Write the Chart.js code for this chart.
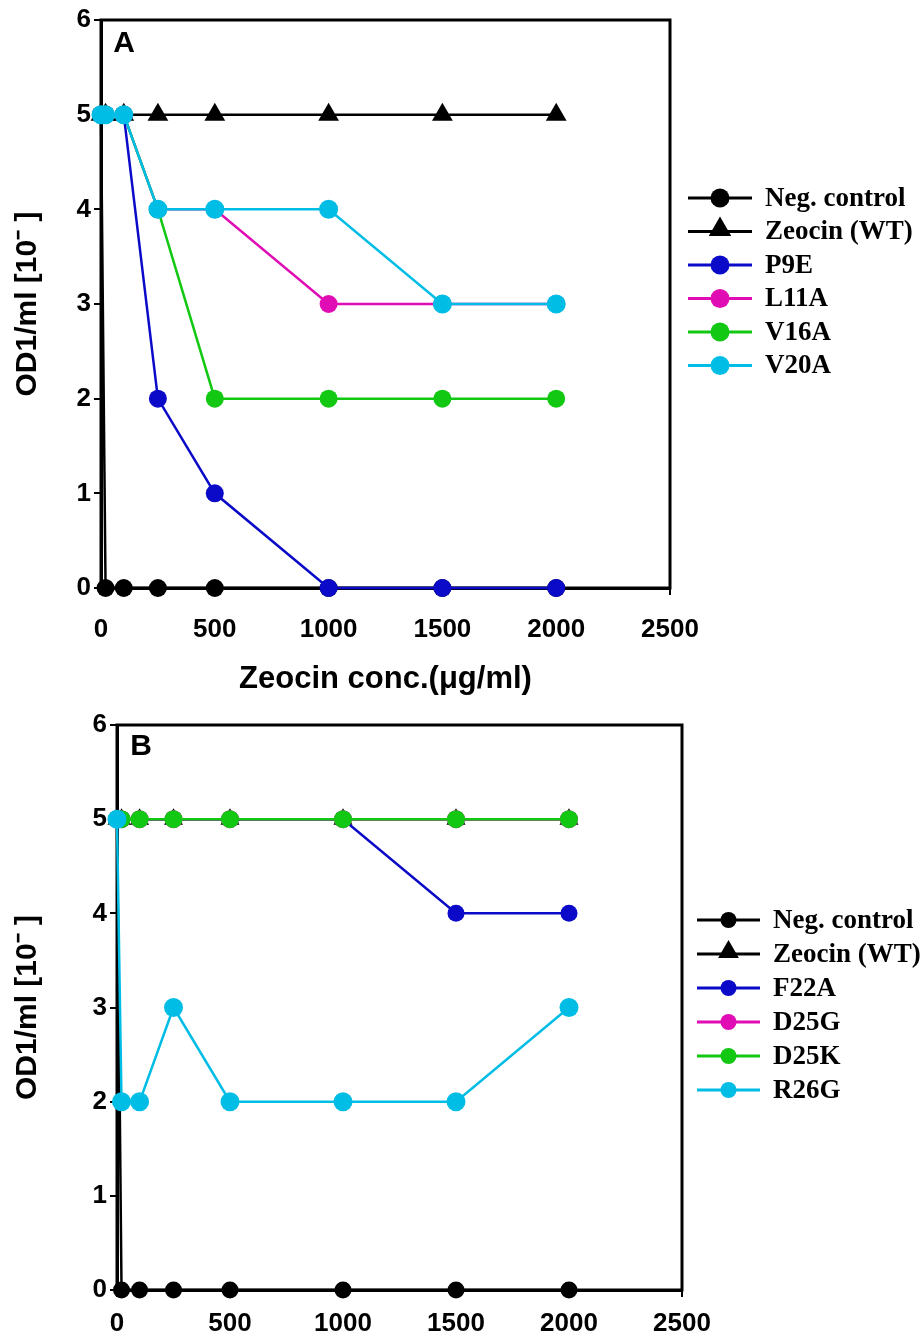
<!DOCTYPE html>
<html>
<head>
<meta charset="utf-8">
<script src="https://cdn.jsdelivr.net/npm/chart.js@4.4.0/dist/chart.umd.min.js"></script>
<style>
  body { margin: 0; background: #fff; }
  canvas { display: block; }
</style>
</head>
<body>
<canvas id="panelA" width="921" height="700"></canvas>
<canvas id="panelB" width="921" height="639"></canvas>
<script>
// Zeocin concentrations (ug/ml)
const concA = [0, 20, 100, 250, 500, 1000, 1500, 2000];
const concB = [0, 20, 100, 250, 500, 1000, 1500, 2000];

// Panel A series
const negA  = [5, 0, 0, 0, 0, 0, 0, 0];
const wtA   = [5, 5, 5, 5, 5, 5, 5, 5];
const p9eA  = [5, 5, 5, 2, 1, 0, 0, 0];
const l11aA = [5, 5, 5, 4, 4, 3, 3, 3];
const v16aA = [5, 5, 5, 4, 2, 2, 2, 2];
const v20aA = [5, 5, 5, 4, 4, 4, 3, 3];

// Panel B series
const negB  = [5, 0, 0, 0, 0, 0, 0, 0];
const wtB   = [5, 5, 5, 5, 5, 5, 5, 5];
const f22aB = [5, 5, 5, 5, 5, 5, 4, 4];
const d25gB = [5, 5, 5, 5, 5, 5, 5, 5];
const d25kB = [5, 5, 5, 5, 5, 5, 5, 5];
const r26gB = [5, 2, 2, 3, 2, 2, 2, 3];

const xTicks = [0, 500, 1000, 1500, 2000, 2500];
const yTicks = [0, 1, 2, 3, 4, 5, 6];
const yTitle = 'OD1/ml [10\u207B ]';

const BLACK = '#000000';
const BLUE = '#0a0ac8';
const MAGENTA = '#e00cb4';
const GREEN = '#12c812';
const CYAN = '#00bde6';
const SANS = '"Liberation Sans", Arial, sans-serif';

function series(label, xs, ys, color, style, r) {
    return {
        label: label,
        data: xs.map((x, i) => ({ x: x, y: ys[i] })),
        borderColor: color,
        backgroundColor: color,
        pointBackgroundColor: color,
        pointBorderColor: color,
        pointBorderWidth: 0,
        pointStyle: style,
        pointRadius: r,
        borderWidth: 2.5,
        tension: 0,
        clip: false
    };
}

// box round the plot + panel letter
const framePlugin = {
    id: 'frame',
    beforeDatasetsDraw(chart, args, opts) {
        const { ctx, chartArea: a } = chart;
        ctx.save();
        ctx.strokeStyle = BLACK;
        ctx.lineWidth = 3;
        ctx.strokeRect(a.left, a.top, a.right - a.left, a.bottom - a.top);
        ctx.font = 'bold 30px ' + SANS;
        ctx.fillStyle = BLACK;
        ctx.textAlign = 'center';
        ctx.textBaseline = 'middle';
        ctx.fillText(opts.letter, opts.letterX, opts.letterY);
        ctx.restore();
    }
};

// legend drawn at the side: line + marker + label
const sideLegend = {
    id: 'sideLegend',
    afterDraw(chart, args, opts) {
        const ctx = chart.ctx;
        chart.data.datasets.forEach((ds, i) => {
            const y = opts.top + i * opts.gap;
            const cx = (opts.x0 + opts.x1) / 2;
            ctx.save();
            ctx.strokeStyle = ds.borderColor;
            ctx.lineWidth = 3;
            ctx.beginPath();
            ctx.moveTo(opts.x0, y);
            ctx.lineTo(opts.x1, y);
            ctx.stroke();
            ctx.fillStyle = ds.backgroundColor;
            ctx.strokeStyle = ds.backgroundColor;
            const tri = ds.pointStyle === 'triangle';
            Chart.helpers.drawPoint(ctx, { pointStyle: ds.pointStyle, radius: tri ? opts.tri : opts.dot, borderWidth: 0 }, cx, tri ? y - 2 : y);
            ctx.fillStyle = BLACK;
            ctx.font = 'bold 27px "Liberation Serif", "Times New Roman", serif';
            ctx.textAlign = 'left';
            ctx.textBaseline = 'middle';
            ctx.fillText(ds.label, opts.textX, y + 1);
            ctx.restore();
        });
    }
};

function makeChart(id, datasets, cfg) {
    const ctx = document.getElementById(id).getContext('2d');
    // later series drawn on top
    datasets.forEach((d, i) => { d.order = datasets.length - i; });
    return new Chart(ctx, {
        type: 'line',
        data: { datasets: datasets },
        options: {
            responsive: false,
            animation: false,
            layout: { padding: { top: cfg.top, right: cfg.right, left: 0, bottom: 0 } },
            plugins: {
                legend: { display: false },
                tooltip: { enabled: false },
                frame: { letter: cfg.letter, letterX: cfg.letterX, letterY: cfg.letterY },
                sideLegend: cfg.legend
            },
            scales: {
                x: {
                    type: 'linear',
                    min: 0,
                    max: 2500,
                    afterFit: s => { s.height = cfg.xHeight; },
                    afterBuildTicks: s => { s.ticks = xTicks.map(v => ({ value: v })); },
                    grid: { drawOnChartArea: false, drawTicks: true, tickLength: 7, color: BLACK, lineWidth: 2 },
                    border: { display: true, color: BLACK, width: 3 },
                    ticks: {
                        color: BLACK,
                        padding: cfg.xPad,
                        maxRotation: 0,
                        callback: v => String(v),
                        font: { family: SANS, size: 26, weight: 'bold' }
                    },
                    title: {
                        display: cfg.xTitle !== '',
                        text: cfg.xTitle,
                        color: BLACK,
                        padding: { top: 0, bottom: 2 },
                        font: { family: SANS, size: 31, weight: 'bold' }
                    }
                },
                y: {
                    min: 0,
                    max: 6,
                    afterFit: s => { s.width = cfg.yWidth; },
                    afterBuildTicks: s => { s.ticks = yTicks.map(v => ({ value: v })); },
                    grid: { drawOnChartArea: false, drawTicks: true, tickLength: 7, color: BLACK, lineWidth: 2 },
                    border: { display: true, color: BLACK, width: 3 },
                    ticks: {
                        color: BLACK,
                        padding: 3,
                        callback: v => String(v),
                        font: { family: SANS, size: 26, weight: 'bold' }
                    },
                    title: {
                        display: true,
                        text: yTitle,
                        color: BLACK,
                        padding: { top: 10, bottom: 0 },
                        font: { family: SANS, size: 30, weight: 'bold' }
                    }
                }
            }
        },
        plugins: [framePlugin, sideLegend]
    });
}

makeChart('panelA', [
    series('Neg. control', concA, negA, BLACK, 'circle', 9),
    series('Zeocin (WT)', concA, wtA, BLACK, 'triangle', 12),
    series('P9E', concA, p9eA, BLUE, 'circle', 9),
    series('L11A', concA, l11aA, MAGENTA, 'circle', 9),
    series('V16A', concA, v16aA, GREEN, 'circle', 9),
    series('V20A', concA, v20aA, CYAN, 'circle', 9.5)
], {
    top: 20, right: 251, xHeight: 112, yWidth: 101, xPad: 19,
    xTitle: 'Zeocin conc.(\u03BCg/ml)',
    letter: 'A', letterX: 124, letterY: 44,
    legend: { x0: 688, x1: 752, textX: 765, top: 198, gap: 33.5, dot: 9.5, tri: 13 }
});

makeChart('panelB', [
    series('Neg. control', concB, negB, BLACK, 'circle', 8.5),
    series('Zeocin (WT)', concB, wtB, BLACK, 'triangle', 11),
    series('F22A', concB, f22aB, BLUE, 'circle', 8.5),
    series('D25G', concB, d25gB, MAGENTA, 'circle', 9),
    series('D25K', concB, d25kB, GREEN, 'circle', 9),
    series('R26G', concB, r26gB, CYAN, 'circle', 9.5)
], {
    top: 25, right: 239, xHeight: 49, yWidth: 117, xPad: 11,
    xTitle: '',
    letter: 'B', letterX: 141, letterY: 47,
    legend: { x0: 697, x1: 760, textX: 773, top: 220, gap: 34, dot: 8, tri: 12 }
});
</script>
</body>
</html>
